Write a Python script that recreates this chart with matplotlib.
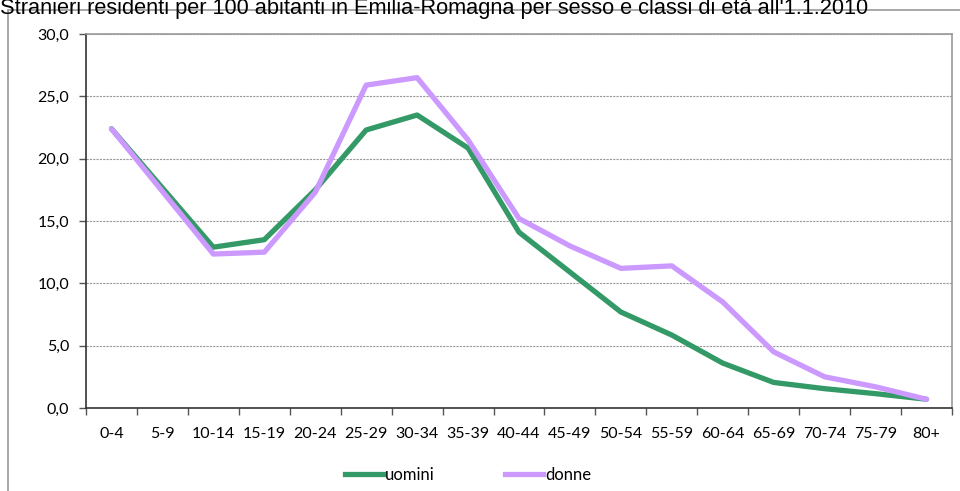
import matplotlib.pyplot as plt
import numpy as np
from matplotlib.lines import Line2D
from matplotlib.patches import Rectangle

plt.rcParams['font.family'] = ['Lato', 'DejaVu Sans']

classi = ['0-4', '5-9', '10-14', '15-19', '20-24', '25-29', '30-34', '35-39', '40-44',
          '45-49', '50-54', '55-59', '60-64', '65-69', '70-74', '75-79', '80+']
# 5-9 manca: la linea collega direttamente 0-4 e 10-14
uomini = [22.4, np.nan, 12.9, 13.5, 17.5, 22.3, 23.5, 20.85, 14.1, 10.9, 7.7, 5.85, 3.6, 2.05, 1.55, 1.15, 0.7]
donne = [22.4, np.nan, 12.35, 12.5, 17.3, 25.9, 26.5, 21.5, 15.2, 13.0, 11.2, 11.4, 8.5, 4.5, 2.5, 1.7, 0.7]

verde = '#339966'
viola = '#cc99ff'

fig = plt.figure(figsize=(9.6, 4.91), dpi=100)
ax = fig.add_axes([86 / 960, 1 - 408 / 491, (952 - 86) / 960, (408 - 34) / 491])

x = np.arange(len(classi))
u = np.array(uomini)
d = np.array(donne)
mu = ~np.isnan(u)
md = ~np.isnan(d)
ax.plot(x[mu], u[mu], color=verde, lw=3.8, solid_capstyle='round', solid_joinstyle='round', zorder=3)
ax.plot(x[md], d[md], color=viola, lw=3.8, solid_capstyle='round', solid_joinstyle='round', zorder=4)

ax.set_xlim(-0.5, len(classi) - 0.5)
ax.set_ylim(0, 30)
ax.set_yticks(np.arange(0, 31, 5))
ax.set_yticklabels([f'{v:.1f}'.replace('.', ',') for v in np.arange(0, 31, 5)], fontsize=11.5)
ax.set_xticks(x)
ax.set_xticklabels(classi, fontsize=11.5)
ax.set_xticks(np.arange(-0.5, len(classi)), minor=True)
ax.tick_params(axis='x', which='major', length=0, pad=14)
ax.tick_params(axis='x', which='minor', length=5, width=1, color='#555555')
ax.tick_params(axis='y', length=5, width=1, color='#555555', pad=7)

ax.grid(axis='y', color='#999999', ls=(0, (2, 1)), lw=0.8)
ax.set_axisbelow(True)
for s in ['top', 'right']:
    ax.spines[s].set_color('#999999')
    ax.spines[s].set_linewidth(1.2)
for s in ['left', 'bottom']:
    ax.spines[s].set_color('#333333')
    ax.spines[s].set_linewidth(1.2)

# bordo dell'area del grafico
fig.patches.append(Rectangle((8 / 960, -0.1), 1.2, 1 - 10 / 491 + 0.1, transform=fig.transFigure,
                             fill=False, edgecolor='#999999', lw=1.2))

fig.text(0, 1 - 14 / 491, "Stranieri residenti per 100 abitanti in Emilia-Romagna per sesso e classi di età all'1.1.2010",
         fontsize=15.7, family='Liberation Sans', va='baseline', ha='left')

handles = [Line2D([], [], color=verde, lw=3.8), Line2D([], [], color=viola, lw=3.8)]
fig.legend(handles, ['uomini', 'donne'], loc='center', bbox_to_anchor=(468 / 960, 1 - 475 / 491),
           ncol=2, frameon=False, fontsize=12, handlelength=2.3, handletextpad=0.1, columnspacing=4.2)

fig.savefig('out.png', dpi=100)
